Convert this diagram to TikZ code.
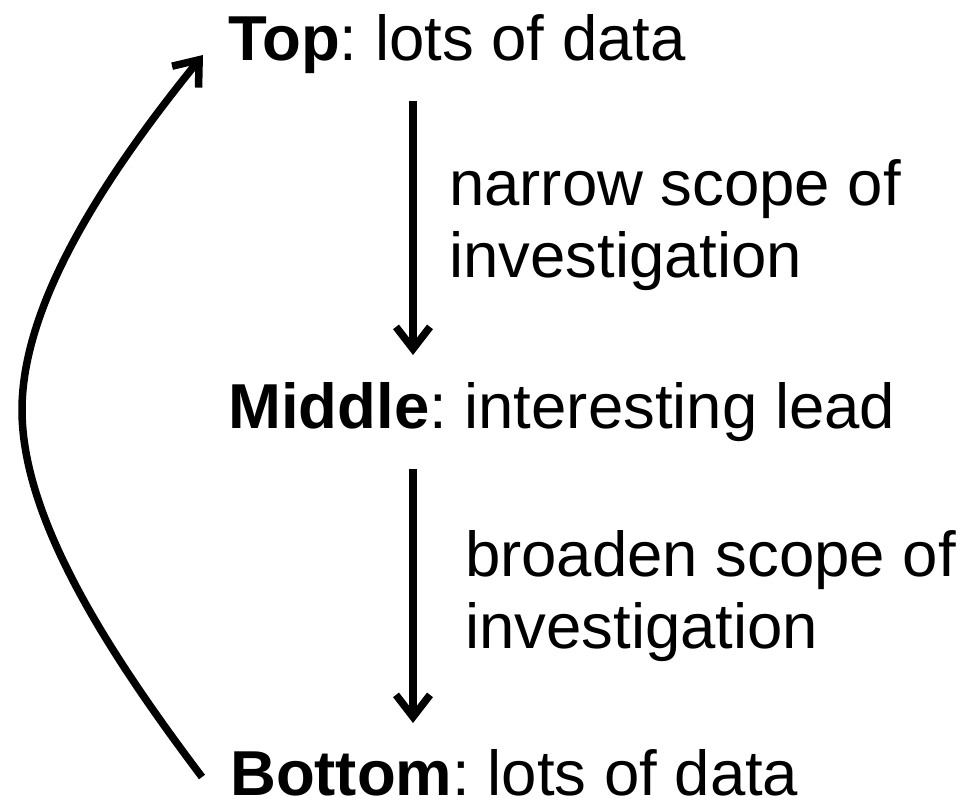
\documentclass[tikz,border=0pt]{standalone}
\usepackage{fontspec}
\setmainfont{Liberation Sans}
\usetikzlibrary{arrows.meta}
\frenchspacing

\begin{document}
\begin{tikzpicture}[x=1pt,y=-1pt,
	lvl/.style={anchor=base west,inner sep=0pt,font=\fontsize{63.5}{72}\selectfont},
	note/.style={anchor=base west,inner sep=0pt,align=left,font=\fontsize{63.5}{72}\selectfont},
	flow/.style={line width=7.5pt,-{Straight Barb[length=22pt,width=34pt]}}]
	\useasboundingbox (0,0) rectangle (971,801);
	\node[lvl] (top) at (228,60) {\textbf{Top}: lots of data};
	\node[lvl] (middle) at (228,428) {\textbf{Middle}: interesting lead};
	\node[lvl] (bottom) at (230,795) {\textbf{Bottom}: lots of data};
	% base anchor sits on the last line
	\node[note] (narrow) at (449,277) {narrow scope of\\investigation};
	\node[note] (broaden) at (465,648) {broaden scope of\\investigation};
	\coordinate (n1) at (413,101);
	\coordinate (n2) at (413,355);
	\coordinate (b1) at (413,469);
	\coordinate (b2) at (413,723);
	\coordinate (back) at (202,777);
	\coordinate (turn) at (22,410);
	\coordinate (tip) at (203,55);
	\draw[flow] (n1) -- (n2);
	\draw[flow] (b1) -- (b2);
	\draw[flow] (back) .. controls (110,655) and (22,520) .. (turn) .. controls (22,300) and (110,170) .. (tip);
\end{tikzpicture}
\end{document}
